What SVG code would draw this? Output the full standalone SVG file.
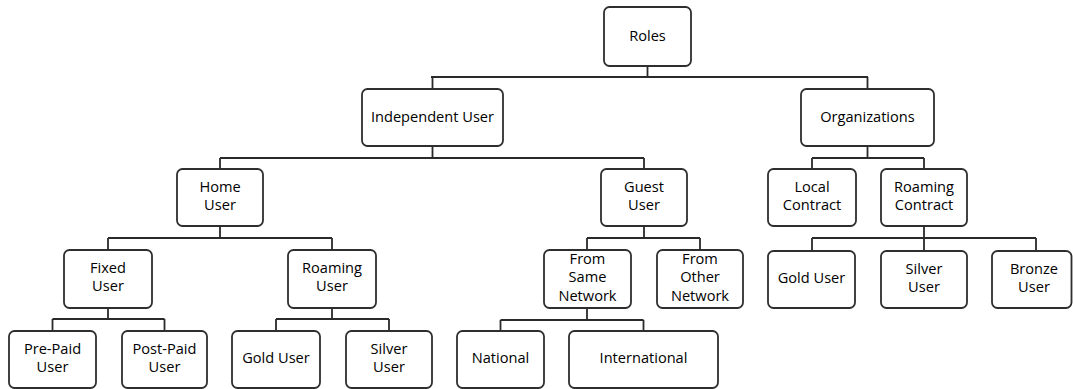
<svg xmlns="http://www.w3.org/2000/svg" width="1073" height="389" viewBox="0 0 1073 389">
  <style>
    .box { fill: #ffffff; stroke: #2e2e2e; stroke-width: 1.8; }
    .lbl { font-family: "Open Sans", "Liberation Sans", sans-serif; font-size: 14.6px; fill: #000000; text-anchor: middle; }
    #connectors path { fill: none; stroke: #2a2a2a; stroke-width: 1.8; }
  </style>
  <rect x="0" y="0" width="1073" height="389" fill="#ffffff"/>

  <!-- tree links: stem from parent, horizontal bar, drops to children -->
  <g id="connectors">
    <path d="M647.5 66 V77 M431 77 H868 M432.5 77 V89 M867.5 77 V89"/>
    <path d="M432.5 146 V158 M220 158 H644 M220 158 V169 M644 158 V169"/>
    <path d="M867.5 146 V158 M812 158 H924 M812 158 V169 M924 158 V169"/>
    <path d="M220 226 V238 M108 238 H332 M108 238 V250 M332 238 V250"/>
    <path d="M644 226 V238 M587 238 H700 M587 238 V250 M700 238 V250"/>
    <path d="M924 226 V238 M812 238 H1036 M812 238 V251 M924 238 V251 M1036 238 V251"/>
    <path d="M108 308 V319 M52.5 319 H164.5 M52.5 319 V331 M164.5 319 V331"/>
    <path d="M332 308 V319 M276 319 H389 M276 319 V331 M389 319 V331"/>
    <path d="M587 308 V320 M500.5 320 H643.5 M500.5 320 V331 M643.5 320 V331"/>
  </g>

  <g id="roles">
    <rect class="box" x="604" y="7" width="87" height="59" rx="5.5"/>
    <text class="lbl" x="647.5" y="41">Roles</text>
  </g>

  <g id="independent-user">
    <rect class="box" x="362" y="89" width="141" height="57" rx="5.5"/>
    <text class="lbl" x="432.5" y="122">Independent User</text>
  </g>

  <g id="organizations">
    <rect class="box" x="801" y="89" width="133" height="57" rx="5.5"/>
    <text class="lbl" x="867.5" y="122">Organizations</text>
  </g>

  <g id="home-user">
    <rect class="box" x="177" y="169" width="86" height="57" rx="5.5"/>
    <text class="lbl" x="220" y="192">Home</text>
    <text class="lbl" x="220" y="210.3">User</text>
  </g>

  <g id="guest-user">
    <rect class="box" x="601" y="169" width="86" height="57" rx="5.5"/>
    <text class="lbl" x="644" y="192">Guest</text>
    <text class="lbl" x="644" y="210.3">User</text>
  </g>

  <g id="local-contract">
    <rect class="box" x="768" y="169" width="88" height="57" rx="5.5"/>
    <text class="lbl" x="812" y="192">Local</text>
    <text class="lbl" x="812" y="210.3">Contract</text>
  </g>

  <g id="roaming-contract">
    <rect class="box" x="881" y="169" width="86" height="57" rx="5.5"/>
    <text class="lbl" x="924" y="192">Roaming</text>
    <text class="lbl" x="924" y="210.3">Contract</text>
  </g>

  <g id="fixed-user">
    <rect class="box" x="64" y="250" width="88" height="58" rx="5.5"/>
    <text class="lbl" x="108" y="272.8">Fixed</text>
    <text class="lbl" x="108" y="291.1">User</text>
  </g>

  <g id="roaming-user">
    <rect class="box" x="288" y="250" width="88" height="58" rx="5.5"/>
    <text class="lbl" x="332" y="272.8">Roaming</text>
    <text class="lbl" x="332" y="291.1">User</text>
  </g>

  <g id="from-same-network">
    <rect class="box" x="544" y="250" width="87" height="58" rx="5.5"/>
    <text class="lbl" x="587.5" y="264">From</text>
    <text class="lbl" x="587.5" y="282.3">Same</text>
    <text class="lbl" x="587.5" y="300.6">Network</text>
  </g>

  <g id="from-other-network">
    <rect class="box" x="657" y="250" width="86" height="58" rx="5.5"/>
    <text class="lbl" x="700" y="264">From</text>
    <text class="lbl" x="700" y="282.3">Other</text>
    <text class="lbl" x="700" y="300.6">Network</text>
  </g>

  <g id="gold-user-contract">
    <rect class="box" x="768" y="251" width="87" height="57" rx="5.5"/>
    <text class="lbl" x="811.5" y="283">Gold User</text>
  </g>

  <g id="silver-user-contract">
    <rect class="box" x="881" y="251" width="86" height="57" rx="5.5"/>
    <text class="lbl" x="924" y="273.5">Silver</text>
    <text class="lbl" x="924" y="291.8">User</text>
  </g>

  <g id="bronze-user">
    <rect class="box" x="992" y="251" width="79.5" height="57" rx="5.5"/>
    <text class="lbl" x="1034" y="273.5">Bronze</text>
    <text class="lbl" x="1034" y="291.8">User</text>
  </g>

  <g id="pre-paid-user">
    <rect class="box" x="9" y="331" width="87" height="57" rx="5.5"/>
    <text class="lbl" x="52.5" y="353.5">Pre-Paid</text>
    <text class="lbl" x="52.5" y="371.8">User</text>
  </g>

  <g id="post-paid-user">
    <rect class="box" x="122" y="331" width="85" height="57" rx="5.5"/>
    <text class="lbl" x="164.5" y="353.5">Post-Paid</text>
    <text class="lbl" x="164.5" y="371.8">User</text>
  </g>

  <g id="gold-user-roaming">
    <rect class="box" x="232" y="331" width="88" height="57" rx="5.5"/>
    <text class="lbl" x="276" y="363">Gold User</text>
  </g>

  <g id="silver-user-roaming">
    <rect class="box" x="346" y="331" width="86" height="57" rx="5.5"/>
    <text class="lbl" x="389" y="353.5">Silver</text>
    <text class="lbl" x="389" y="371.8">User</text>
  </g>

  <g id="national">
    <rect class="box" x="457" y="331" width="87" height="57" rx="5.5"/>
    <text class="lbl" x="500.5" y="363">National</text>
  </g>

  <g id="international">
    <rect class="box" x="569" y="331" width="149" height="57" rx="5.5"/>
    <text class="lbl" x="643.5" y="363">International</text>
  </g>
</svg>
